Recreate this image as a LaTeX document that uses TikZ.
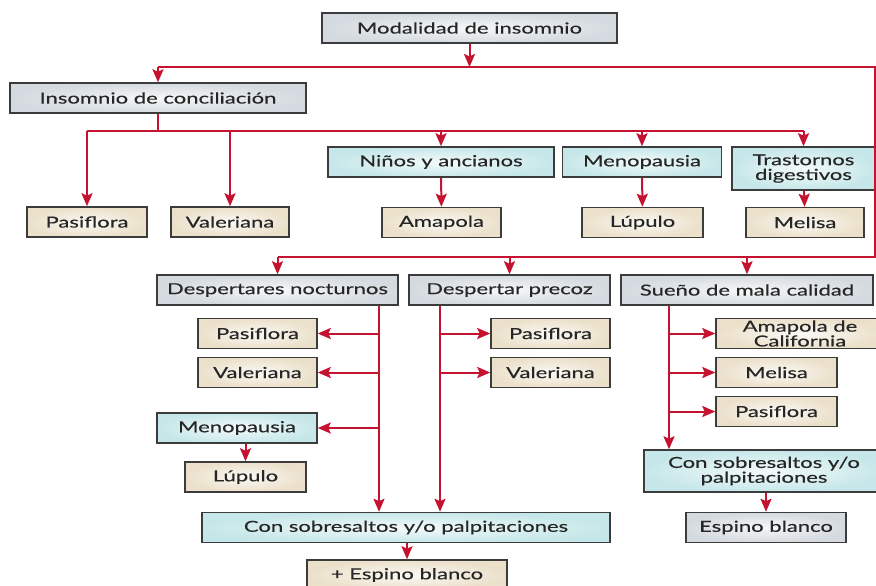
\documentclass[tikz,border=0pt]{standalone}
\usepackage{fontspec}
\setmainfont{Lato}[FakeStretch=1.45, FakeBold=0.35]
\usepackage{tikz}
\usetikzlibrary{arrows.meta, positioning, calc}
\definecolor{linkred}{RGB}{196, 18, 48}
\definecolor{boxline}{RGB}{60, 60, 60}
\definecolor{topicgray}{RGB}{212, 218, 223}
\definecolor{groupcyan}{RGB}{198, 231, 233}
\definecolor{herbbeige}{RGB}{235, 224, 202}

\begin{document}
\begin{tikzpicture}[
    x=0.5pt, y=-0.5pt,
    box/.style={draw=boxline, line width=0.75pt, minimum height=15pt, inner sep=1pt, font=\fontsize{7.6}{7.4}\selectfont, align=center, text=black!85},
    topic/.style={box, inner color=topicgray!20!white, outer color=topicgray},
    group/.style={box, inner color=groupcyan!20!white, outer color=groupcyan},
    herb/.style={box, inner color=herbbeige!20!white, outer color=herbbeige},
    link/.style={linkred, line width=1pt},
    arrow/.style={link, -{Stealth[length=6.5pt, width=5.5pt, inset=1.2pt]}}
]
    \fill[white] (0,0) rectangle (876,585);
    \begin{scope}
    \clip (0,0) rectangle (876,585);
    % Nodes
    \node[topic, minimum width=147.5pt] (modal) at (469.5,28) {Modalidad de insomnio};
    \node[topic, minimum width=148pt] (insom) at (158,98) {Insomnio de conciliación};
    \node[herb, minimum width=60pt] (pasi1) at (87,222) {Pasiflora};
    \node[herb, minimum width=59pt] (vale1) at (230,222) {Valeriana};
    \node[group, minimum width=113pt] (ninos) at (441,162) {Niños y ancianos};
    \node[group, minimum width=79.5pt] (meno1) at (642,162) {Menopausia};
    \node[group, minimum width=71.5pt, minimum height=21.5pt] (trast) at (803.5,168.5) {Trastornos\\digestivos};
    \node[herb, minimum width=59.5pt] (amap) at (441.5,222.5) {Amapola};
    \node[herb, minimum width=60.5pt] (lupu1) at (642.5,222.5) {Lúpulo};
    \node[herb, minimum width=59pt] (meli1) at (805,222.5) {Melisa};

    \node[topic, minimum width=120.5pt] (desp) at (277.5,290) {Despertares nocturnos};
    \node[topic, minimum width=100.5pt] (prec) at (509.5,290) {Despertar precoz};
    \node[topic, minimum width=126pt] (suen) at (747,290) {Sueño de mala calidad};

    \node[herb, minimum width=59.5pt] (pasi2) at (257.5,333.5) {Pasiflora};
    \node[herb, minimum width=59.5pt] (vale2) at (257.5,372.5) {Valeriana};
    \node[group, minimum width=80pt] (meno2) at (237,428) {Menopausia};
    \node[herb, minimum width=60.5pt] (lupu2) at (245.5,477) {Lúpulo};
    \node[herb, minimum width=59.5pt] (pasi3) at (550.5,333.5) {Pasiflora};
    \node[herb, minimum width=59.5pt] (vale3) at (550.5,372.5) {Valeriana};
    \node[herb, minimum width=84pt] (amcal) at (800,333.5) {Amapola de\\California};
    \node[herb, minimum width=60.5pt] (meli2) at (776.5,372.5) {Melisa};
    \node[herb, minimum width=60.5pt] (pasi4) at (776.5,411.5) {Pasiflora};

    \node[group, minimum width=204pt] (conL) at (406,527.5) {Con sobresaltos y/o palpitaciones};
    \node[herb, minimum width=100pt] (espL) at (407,575) {+ Espino blanco};
    \node[group, minimum width=120pt, minimum height=21pt] (conR) at (764,471) {Con sobresaltos y/o\\palpitaciones};
    \node[topic, minimum width=80pt] (espR) at (766,527.5) {Espino blanco};

    % Bus points
    \coordinate (busA) at (469.5,67);
    \coordinate (cornA) at (875,67);
    \coordinate (cornB) at (875,257);
    \coordinate (busB) at (158,131);
    \coordinate (sL) at (379,0);
    \coordinate (sP) at (440,0);
    \coordinate (sS) at (669,0);

    % Arrows
    \draw[arrow] (modal) -- (busA);
    \draw[link] (insom.north |- busA) -- (cornA) -- (cornB) -- (desp.north |- cornB);
    \draw[arrow] (insom.north |- busA) -- (insom.north);
    \draw[link] (insom) -- (busB);
    \draw[link] (pasi1.north |- busB) -- (trast.north |- busB);
    \foreach \n in {pasi1, vale1, ninos, meno1, trast}
        \draw[arrow] (\n.north |- busB) -- (\n.north);
    \draw[arrow] (ninos) -- (amap);
    \draw[arrow] (meno1) -- (lupu1);
    \draw[arrow] (trast) -- (meli1);

    \foreach \n in {desp, prec, suen}
        \draw[arrow] (\n.north |- cornB) -- (\n.north);

    \draw[arrow] (desp.south -| sL) -- (conL.north -| sL);
    \foreach \n in {pasi2, vale2, meno2}
        \draw[arrow] (\n.east -| sL) -- (\n.east);
    \draw[arrow] (meno2.south -| lupu2.north) -- (lupu2.north);

    \draw[arrow] (prec.south -| sP) -- (conL.north -| sP);
    \foreach \n in {pasi3, vale3}
        \draw[arrow] (\n.west -| sP) -- (\n.west);

    \draw[arrow] (suen.south -| sS) -- (conR.north -| sS);
    \foreach \n in {amcal, meli2, pasi4}
        \draw[arrow] (\n.west -| sS) -- (\n.west);

    \draw[arrow] (conL.south -| espL.north) -- (espL.north);
    \draw[arrow] (conR.south -| espR.north) -- (espR.north);
    \end{scope}
    \pgfresetboundingbox
    \useasboundingbox (0,0) rectangle (876,585);
\end{tikzpicture}
\end{document}
